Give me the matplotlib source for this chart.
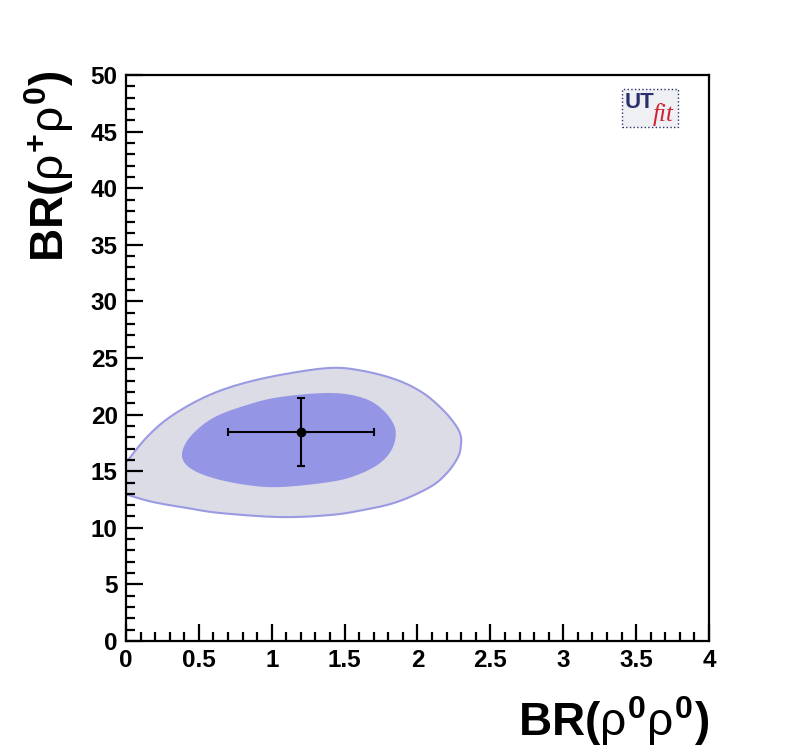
import matplotlib
matplotlib.use("Agg")
import numpy as np
import matplotlib.pyplot as plt
from matplotlib.patches import Polygon, Rectangle

plt.rcParams["font.family"] = ["Liberation Sans", "DejaVu Sans"]
plt.rcParams["mathtext.fontset"] = "custom"
plt.rcParams["mathtext.rm"] = "Liberation Sans"
plt.rcParams["mathtext.it"] = "Liberation Sans"
plt.rcParams["mathtext.bf"] = "Liberation Sans:bold"

# 95% region (outer contour)
outer_x = [0.0, 0.014, 0.144, 0.302, 0.528, 0.762, 1.057, 1.400, 1.626, 1.859, 2.038,
           2.175, 2.260, 2.295, 2.298, 2.278, 2.202, 2.086, 1.859, 1.626, 1.400, 1.057,
           0.645, 0.419, 0.185, 0.014, 0.0]
outer_y = [15.81, 15.99, 18.02, 19.79, 21.47, 22.61, 23.50, 24.12, 23.86, 23.06, 21.91,
           20.41, 19.10, 18.20, 17.30, 16.25, 14.84, 13.60, 12.28, 11.57, 11.13, 10.95,
           11.31, 11.75, 12.28, 12.90, 12.99]

# 68% region (inner contour)
inner_x = [1.057, 1.400, 1.626, 1.763, 1.846, 1.832, 1.743, 1.585, 1.400, 1.057, 0.830,
           0.597, 0.439, 0.384, 0.439, 0.597, 0.830]
inner_y = [21.55, 21.91, 21.47, 20.41, 18.82, 17.14, 15.72, 14.66, 14.05, 13.60, 13.78,
           14.40, 15.28, 16.43, 18.02, 19.70, 20.85]

# measured point
meas_x = 1.2
meas_y = 18.5
meas_xerr = 0.5
meas_yerr = 3.0


def smooth(xs, ys, closed, n=12):
    # catmull-rom through the read points, only to draw a round outline
    p = np.column_stack([xs, ys])
    if closed:
        p = np.vstack([p[-1], p, p[0], p[1]])
    else:
        p = np.vstack([p[0], p, p[-1]])
    out = []
    for i in range(1, len(p) - 2):
        p0, p1, p2, p3 = p[i - 1], p[i], p[i + 1], p[i + 2]
        for t in np.linspace(0, 1, n, endpoint=False):
            t2 = t * t
            t3 = t2 * t
            out.append(0.5 * (2 * p1 + (-p0 + p2) * t + (2 * p0 - 5 * p1 + 4 * p2 - p3) * t2
                              + (-p0 + 3 * p1 - 3 * p2 + p3) * t3))
    if not closed:
        out.append(p[-2])
    return np.array(out)


fig = plt.figure(figsize=(7.88, 7.56), dpi=100)
ax = fig.add_axes([0.1599, 0.1521, 0.7398, 0.7487])

outer = Polygon(smooth(outer_x, outer_y, False), closed=False, facecolor="#dcdce6",
                edgecolor="#9a9ae2", linewidth=1.5, zorder=1)
ax.add_patch(outer)
inner = Polygon(smooth(inner_x, inner_y, True), closed=True, facecolor="#9595e6",
                edgecolor="none", zorder=2)
ax.add_patch(inner)

ax.errorbar([meas_x], [meas_y], xerr=[meas_xerr], yerr=[meas_yerr], fmt="o",
            color="black", markersize=6, elinewidth=1.5, capsize=3, capthick=1.5, zorder=3)

ax.set_xlim(0, 4)
ax.set_ylim(0, 50)
ax.set_xticks([0, 0.5, 1, 1.5, 2, 2.5, 3, 3.5, 4])
ax.set_xticklabels(["0", "0.5", "1", "1.5", "2", "2.5", "3", "3.5", "4"])
ax.set_yticks(range(0, 51, 5))
ax.set_xticks([i * 0.1 for i in range(41)], minor=True)
ax.set_yticks(range(0, 51), minor=True)

ax.tick_params(which="both", direction="in", top=False, right=False, width=1.6,
               labelsize=17.5, pad=6)
ax.tick_params(which="major", length=12)
ax.tick_params(which="minor", length=6.5)
for lab in ax.get_xticklabels() + ax.get_yticklabels():
    lab.set_fontweight("bold")
for s in ax.spines.values():
    s.set_linewidth(1.6)

fig.text(0.8997, 0.027, r"$\mathbf{BR(}\rho^{\mathbf{0}}\rho^{\mathbf{0}}\mathbf{)}$",
         ha="right", va="baseline", fontsize=33)
fig.text(0.028, 0.9070, r"$\mathbf{BR(}\rho^{\mathbf{+}}\rho^{\mathbf{0}}\mathbf{)}$",
         ha="left", va="top", rotation=90, fontsize=33)

# UTfit logo
ax.add_patch(Rectangle((0.851, 0.908), 0.096, 0.068, transform=ax.transAxes,
                       facecolor="#eef0f4", edgecolor="#2a2f6e", linewidth=1,
                       linestyle=":", zorder=5))
ax.text(0.855, 0.951, "UT", transform=ax.transAxes, fontsize=16, fontweight="bold",
        color="#2a2f6e", ha="left", va="center", zorder=6)
ax.text(0.903, 0.931, "fit", transform=ax.transAxes, fontsize=18, style="italic",
        family="Liberation Serif", color="#d02030",
        ha="left", va="center", zorder=6)

fig.savefig("out.png", dpi=100)
